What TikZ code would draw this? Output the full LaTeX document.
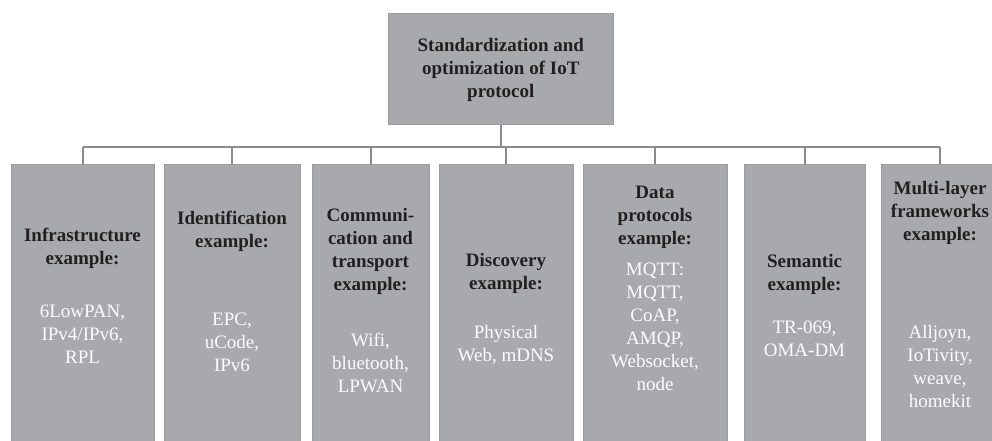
\documentclass[tikz,border=0pt]{standalone}
\usepackage{fontspec}
\setmainfont{Liberation Serif}
\usetikzlibrary{positioning}

\definecolor{boxgray}{HTML}{A7A9AC}
\definecolor{edgegray}{HTML}{9A9C9F}
\definecolor{linegray}{HTML}{8A8A8A}
\definecolor{inkdark}{HTML}{231F20}

\begin{document}
\begin{tikzpicture}[x=1pt,y=-1pt,
    box/.style={draw=edgegray, fill=boxgray, line width=0.6pt, anchor=north west, inner sep=0pt},
    head/.style={align=center, text=inkdark, font=\fontsize{19}{23}\selectfont\bfseries},
    vals/.style={align=center, text=white!96!boxgray, font=\fontsize{19}{23}\selectfont},
    link/.style={draw=linegray, line width=1.8pt}]

        % 1. Frame of the picture
        \useasboundingbox (0,0) rectangle (992,440);
        \clip (0,0) rectangle (992,440);

        % 2. Top box
        \node[box, minimum width=225, minimum height=111] (top) at (388,13) {};
        \node[head] (toptext) at ([yshift=-1]top.center) {Standardization and\\optimization of IoT\\protocol};

        % 3. Example boxes (cut by the lower edge)
        \node[box, minimum width=143, minimum height=290] (b1) at (11,164) {};
        \node[box, minimum width=136, minimum height=290] (b2) at (164,164) {};
        \node[box, minimum width=117, minimum height=290] (b3) at (312,164) {};
        \node[box, minimum width=134, minimum height=290] (b4) at (439,164) {};
        \node[box, minimum width=144, minimum height=290] (b5) at (583,164) {};
        \node[box, minimum width=121, minimum height=290] (b6) at (744,164) {};
        \node[box, minimum width=118, minimum height=290] (b7) at (881,164) {};

        % 4. Connectors
        \coordinate (bus) at (0,147);
        \draw[link] (top.south) -- (top.south |- bus);
        \draw[link] (b1.north |- bus) -- (b7.north |- bus);
        \draw[link] (b1.north |- bus) -- (b1.north);
        \draw[link] (b2.north |- bus) -- (b2.north);
        \draw[link] (b3.north |- bus) -- (b3.north);
        \draw[link] (b4.north |- bus) -- (b4.north);
        \draw[link] (b5.north |- bus) -- (b5.north);
        \draw[link] (b6.north |- bus) -- (b6.north);
        \draw[link] (b7.north |- bus) -- (b7.north);

        % 5. Headings
        \node[head] (h1) at (82.5,248) {Infrastructure\\example:};
        \node[head] (h2) at (232,231) {Identification\\example:};
        \node[head] (h3) at (370.5,251) {Communi-\\cation and\\transport\\example:};
        \node[head] (h4) at (506,273) {Discovery\\example:};
        \node[head] (h5) at (655,217) {Data\\protocols\\example:};
        \node[head] (h6) at (804.5,274) {Semantic\\example:};
        \node[head] (h7) at (940,213) {Multi-layer\\frameworks\\example:};

        % 6. Examples
        \node[vals] (v1) at (82.5,334) {6LowPAN,\\IPv4/IPv6,\\RPL};
        \node[vals] (v2) at (232,342) {EPC,\\uCode,\\IPv6};
        \node[vals] (v3) at (370.5,363) {Wifi,\\bluetooth,\\LPWAN};
        \node[vals] (v4) at (506,345) {Physical\\Web, mDNS};
        \node[vals] (v5) at (655,327) {MQTT:\\MQTT,\\CoAP,\\AMQP,\\Websocket,\\node};
        \node[vals] (v6) at (804.5,339) {TR-069,\\OMA-DM};
        \node[vals] (v7) at (940,366) {Alljoyn,\\IoTivity,\\weave,\\homekit};
    \end{tikzpicture}
\end{document}
